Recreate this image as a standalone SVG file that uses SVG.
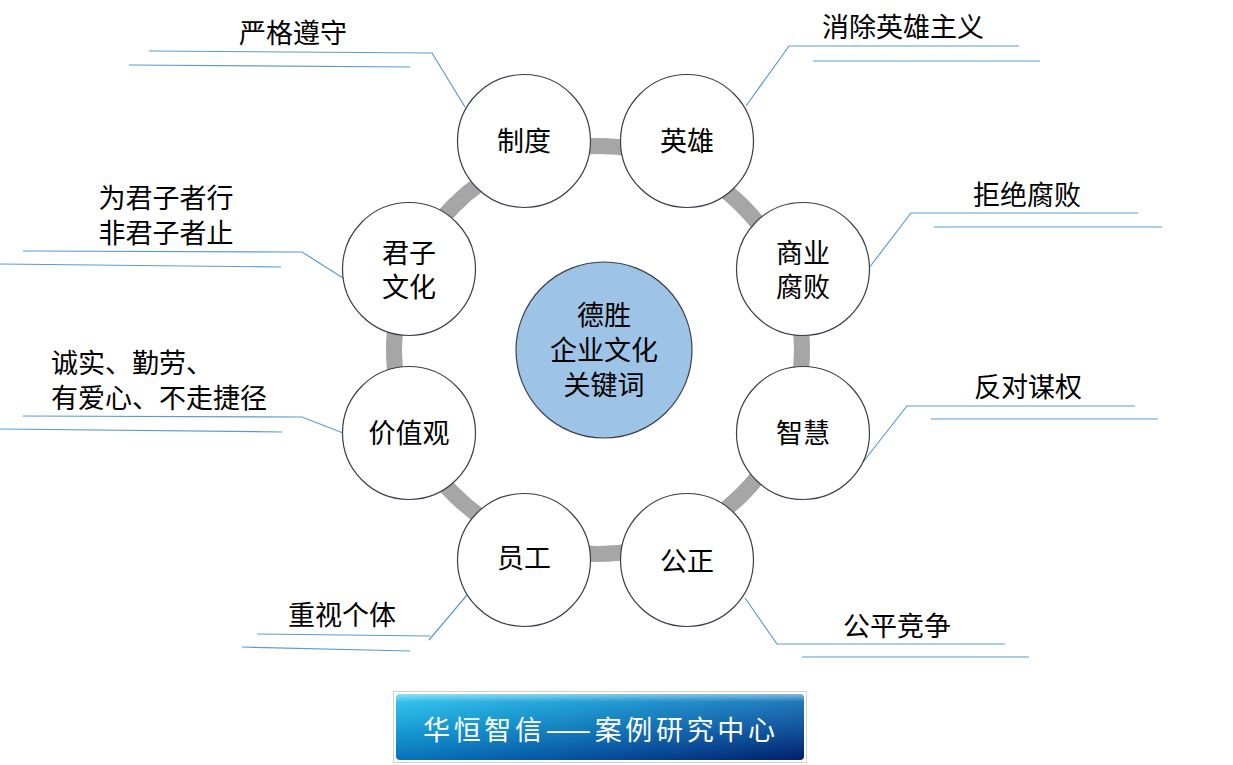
<svg xmlns="http://www.w3.org/2000/svg" width="1233" height="765" viewBox="0 0 1233 765">
<style>
.node{fill:#FFFFFF;stroke:#3A3F4A;stroke-width:1.2}
.hub{fill:#9DC3E6;stroke:#3A3F4A;stroke-width:1.2}
.lbl{font-family:"Noto Sans CJK SC","Noto Sans",sans-serif;font-size:27px;fill:#000000;text-anchor:middle;dominant-baseline:central}
.ann{font-family:"Noto Sans CJK SC","Noto Sans",sans-serif;font-size:27px;fill:#000000;dominant-baseline:central}
.lead{fill:none;stroke:#5B9BD5;stroke-width:1.2}
.ring{fill:none;stroke:#A6A6A6;stroke-width:16}
.banner{font-family:"Noto Sans CJK SC",sans-serif;font-size:27px;fill:#FFFFFF;dominant-baseline:central}
</style>
<defs>
<linearGradient id="bg" x1="0" y1="0" x2="1" y2="1">
<stop offset="0" stop-color="#22C2EE"/>
<stop offset="0.3" stop-color="#0A94CF"/>
<stop offset="0.7" stop-color="#0652A0"/>
<stop offset="1" stop-color="#021F6A"/>
</linearGradient>
<linearGradient id="hl" x1="0" y1="0" x2="0" y2="1">
<stop offset="0" stop-color="#FFFFFF" stop-opacity="0.5"/>
<stop offset="0.12" stop-color="#FFFFFF" stop-opacity="0.1"/>
<stop offset="1" stop-color="#FFFFFF" stop-opacity="0"/>
</linearGradient>
</defs>
<rect width="1233" height="765" fill="#FFFFFF"/>

<g id="connectors">
<circle class="ring" cx="598" cy="350" r="204"/>
<polyline class="lead" points="149,51 432,53 465,107"/>
<line class="lead" x1="129" y1="65" x2="410" y2="67"/>
<polyline class="lead" points="1019,46 789,46 746,106"/>
<line class="lead" x1="813" y1="61" x2="1040" y2="61"/>
<polyline class="lead" points="1138,213 911,213 869,268"/>
<line class="lead" x1="934" y1="227" x2="1162" y2="227"/>
<polyline class="lead" points="23,251 302,252 343,278"/>
<line class="lead" x1="0" y1="264" x2="281" y2="267"/>
<polyline class="lead" points="23,416 302,417 343,433"/>
<line class="lead" x1="0" y1="429" x2="282" y2="432"/>
<polyline class="lead" points="1135,406 907,406 863,462"/>
<line class="lead" x1="931" y1="419" x2="1158" y2="419"/>
<polyline class="lead" points="745,598 777,644 1005,644"/>
<line class="lead" x1="802" y1="657" x2="1029" y2="657"/>
<polyline class="lead" points="257,634 430,636"/>
<line class="lead" x1="429" y1="640" x2="467" y2="595"/>
<line class="lead" x1="242" y1="647" x2="410" y2="651"/>
</g>

<g id="hub">
<circle class="hub" cx="604" cy="350" r="88"/>
<text class="lbl" x="604" y="313">德胜</text>
<text class="lbl" x="604" y="348">企业文化</text>
<text class="lbl" x="604" y="383">关键词</text>
</g>

<g id="n-zhidu">
<circle class="node" cx="524" cy="141" r="66.5"/>
<text class="lbl" x="524" y="139">制度</text>
</g>
<g id="n-yingxiong">
<circle class="node" cx="687" cy="141" r="66.5"/>
<text class="lbl" x="687" y="139">英雄</text>
</g>
<g id="n-shangye">
<circle class="node" cx="803" cy="269" r="66.5"/>
<text class="lbl" x="803" y="251">商业</text>
<text class="lbl" x="803" y="285">腐败</text>
</g>
<g id="n-zhihui">
<circle class="node" cx="803" cy="433" r="66.5"/>
<text class="lbl" x="803" y="431">智慧</text>
</g>
<g id="n-gongzheng">
<circle class="node" cx="687" cy="560" r="66.5"/>
<text class="lbl" x="687" y="559">公正</text>
</g>
<g id="n-yuangong">
<circle class="node" cx="524" cy="560" r="66.5"/>
<text class="lbl" x="524" y="556">员工</text>
</g>
<g id="n-jiazhiguan">
<circle class="node" cx="409" cy="433" r="66.5"/>
<text class="lbl" x="409" y="431">价值观</text>
</g>
<g id="n-junzi">
<circle class="node" cx="409" cy="269" r="66.5"/>
<text class="lbl" x="409" y="251">君子</text>
<text class="lbl" x="409" y="285">文化</text>
</g>

<g id="annotations">
<text class="lbl" x="293" y="31">严格遵守</text>
<text class="lbl" x="903" y="25">消除英雄主义</text>
<text class="lbl" x="1027" y="193">拒绝腐败</text>
<text class="lbl" x="166" y="196">为君子者行</text>
<text class="lbl" x="166" y="231">非君子者止</text>
<text class="ann" x="51" y="361">诚实、勤劳、</text>
<text class="ann" x="51" y="396">有爱心、不走捷径</text>
<text class="lbl" x="1028" y="385">反对谋权</text>
<text class="lbl" x="897" y="624">公平竞争</text>
<text class="lbl" x="342" y="613">重视个体</text>
</g>

<g id="banner">
<rect x="393.5" y="691.5" width="413" height="71" fill="none" stroke="#A0A0A0" stroke-width="1" stroke-dasharray="1 1"/>
<rect x="396" y="694" width="408" height="66" rx="4" fill="url(#bg)"/>
<rect x="396" y="694" width="408" height="66" rx="4" fill="url(#hl)"/>
<text class="banner" x="423" y="728" textLength="352" lengthAdjust="spacing">华恒智信——案例研究中心</text>
</g>
</svg>
